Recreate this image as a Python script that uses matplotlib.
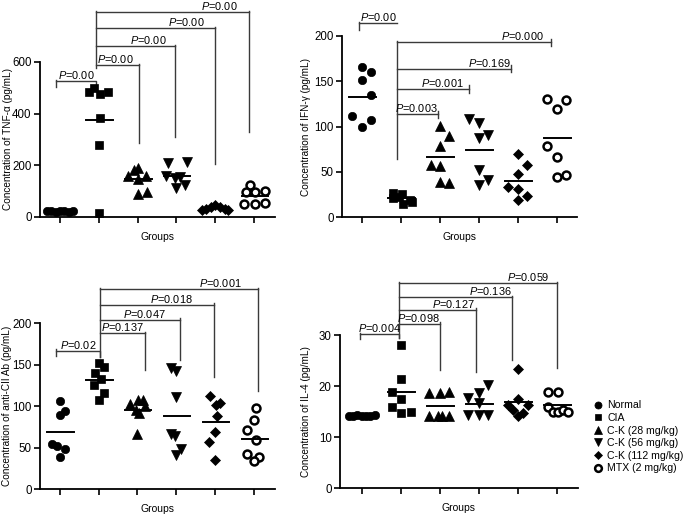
import numpy as np
import matplotlib.pyplot as plt

plt.rcParams['font.family'] = ['Liberation Sans', 'DejaVu Sans']
plt.rcParams['mathtext.fontset'] = 'custom'
plt.rcParams['mathtext.rm'] = 'Liberation Sans'
plt.rcParams['mathtext.it'] = 'Liberation Sans:italic'

# groups
groups = ['Normal', 'CIA', 'C-K (28 mg/kg)', 'C-K (56 mg/kg)', 'C-K (112 mg/kg)', 'MTX (2 mg/kg)']

# values (7 animals per group)
tnf_values = [
    [22, 24, 20, 23, 25, 21, 22],
    [500, 483, 478, 483, 385, 277, 15],
    [190, 180, 158, 160, 146, 88, 98],
    [210, 212, 157, 150, 155, 112, 125],
    [45, 38, 38, 32, 32, 26, 26],
    [125, 95, 96, 100, 50, 50, 55],
]
ifn_values = [
    [166, 160, 151, 135, 112, 100, 107],
    [27, 26, 21, 22, 19, 15, 17],
    [101, 90, 79, 58, 57, 39, 38],
    [108, 104, 88, 91, 52, 41, 36],
    [70, 58, 48, 33, 31, 24, 19],
    [130, 129, 119, 79, 67, 47, 44],
]
cii_values = [
    [106, 94, 90, 55, 52, 49, 39],
    [152, 147, 140, 133, 126, 116, 108],
    [108, 108, 103, 100, 95, 92, 67],
    [146, 142, 111, 67, 64, 49, 41],
    [113, 104, 101, 88, 69, 57, 35],
    [98, 84, 71, 59, 43, 39, 34],
]
il4_values = [
    [14.1, 14.2, 14.3, 14.2, 14.1, 14.2, 14.3],
    [28.0, 21.4, 18.8, 17.5, 15.9, 14.8, 14.9],
    [18.6, 18.6, 18.8, 14.2, 14.2, 14.2, 14.2],
    [20.2, 18.6, 17.7, 16.7, 14.3, 14.3, 14.3],
    [23.3, 17.5, 16.3, 16.3, 15.3, 14.7, 14.2],
    [18.8, 18.8, 15.9, 14.9, 14.9, 15.3, 14.9],
]

# P values: Normal vs CIA, then CIA vs C-K28, C-K56, C-K112, MTX
tnf_p = ['0.00', '0.00', '0.00', '0.00', '0.00']
ifn_p = ['0.00', '0.003', '0.001', '0.169', '0.000']
cii_p = ['0.02', '0.137', '0.047', '0.018', '0.001']
il4_p = ['0.004', '0.098', '0.127', '0.136', '0.059']

# horizontal scatter of the points inside each group (layout only)
tnf_jit = [[-0.33, -0.22, -0.11, 0, 0.11, 0.22, 0.33],
           [-0.12, -0.25, 0.03, 0.24, 0.03, 0, 0],
           [0, -0.1, -0.25, 0.22, 0, 0, 0.24],
           [-0.21, 0.26, -0.26, -0.04, 0.09, 0, 0.21],
           [0, -0.12, 0.12, -0.24, 0.24, -0.34, 0.34],
           [-0.1, -0.2, 0.02, 0.28, -0.25, 0.02, 0.28]]
ifn_jit = [[0, 0.24, 0, 0.24, -0.26, 0, 0.24],
           [-0.2, 0.03, -0.2, -0.05, 0.25, 0.07, 0.3],
           [0, 0.25, 0, -0.23, 0, 0, 0.25],
           [-0.24, 0, 0, 0.25, 0, 0.25, 0],
           [0, 0.25, 0, -0.24, 0, 0.23, 0],
           [-0.26, 0.24, 0, -0.24, 0, 0.24, 0]]
cii_jit = [[0, 0.13, 0, -0.2, -0.08, 0.13, 0],
           [0, 0.14, -0.1, 0.05, -0.12, 0.14, 0],
           [0.02, 0.15, -0.2, 0.2, -0.05, 0.05, 0],
           [-0.13, 0, 0, -0.13, -0.03, 0.13, 0],
           [-0.13, 0.13, 0.03, 0.04, 0, -0.17, 0],
           [0.04, 0, -0.17, 0.04, -0.17, 0.13, 0]]
il4_jit = [[-0.33, -0.22, -0.11, 0, 0.11, 0.22, 0.33],
           [0, 0, -0.23, 0, -0.23, 0, 0.26],
           [-0.26, 0, 0.23, -0.26, -0.05, 0.05, 0.23],
           [0.23, 0, -0.26, 0, -0.26, 0, 0.23],
           [0, 0, -0.25, 0.28, -0.12, 0.14, 0],
           [-0.22, 0.04, -0.22, -0.1, 0.04, 0.17, 0.3]]

markers = ['o', 's', '^', 'v', 'D', 'o']
msizes = [6, 5.6, 6.6, 6.6, 5.3, 5.7]

W, H = 685, 517
fig = plt.figure(figsize=(6.85, 5.17), dpi=100)


def make_ax(l, r, b, t, xlim, ymax, yticks, ylabel, lab_x):
    ax = fig.add_axes([l / W, 1 - b / H, (r - l) / W, (b - t) / H])
    ax.set_xlim(*xlim)
    ax.set_ylim(0, ymax)
    ax.set_yticks(yticks)
    ax.set_xticks(range(1, 7))
    ax.set_xticklabels([])
    for s in ['top', 'right']:
        ax.spines[s].set_visible(False)
    for s in ['left', 'bottom']:
        ax.spines[s].set_linewidth(1.3)
    ax.tick_params(axis='both', direction='out', length=4.5, width=1.2, labelsize=8.3, pad=1.5)
    ax.set_ylabel(ylabel, fontsize=7.2)
    # label x is the right edge of the rotated text
    ax.yaxis.set_label_coords((lab_x - l) / (r - l), 0.5)
    ax.set_xlabel('Groups', fontsize=7.5)
    ax.xaxis.set_label_coords(0.5, -15 / (b - t))
    return ax


def draw_points(ax, values, jit):
    for i, (vals, offs) in enumerate(zip(values, jit)):
        x = i + 1 + np.array(offs)
        open_mk = i == 5
        ax.plot(x, vals, ls='none', marker=markers[i], ms=msizes[i],
                mfc='white' if open_mk else 'black', mec='black',
                mew=1.8 if open_mk else 0.5, clip_on=False, label=groups[i], zorder=3)
        m = np.mean(vals)
        ax.plot([i + 1 - 0.32, i + 1 + 0.36], [m, m], color='black', lw=1.4, zorder=4)


def draw_brackets(ax, pvals, cia_x, first, others, cia_bottom, cap):
    kw = dict(color='#3a3a3a', lw=1.0, clip_on=False)
    tkw = dict(fontsize=7.9, va='baseline', textcoords='offset points', annotation_clip=False)
    # Normal vs CIA
    x1, h, lo1, lo2 = first
    ax.plot([x1, x1, cia_x, cia_x], [lo1, h, h, lo2], **kw)
    ax.plot([x1, x1], [h, h + cap * 0.3], **kw)
    ax.annotate(r'$\mathit{P}$=' + pvals[0], ((x1 + cia_x) / 2, h), xytext=(0, 1.5), ha='center', **tkw)
    top = max(o[1] for o in others)
    ax.plot([cia_x, cia_x], [top + cap * 0.3, cia_bottom], **kw)
    for p, (x2, h, lo, hi, tx) in zip(pvals[1:], others):
        ax.plot([cia_x, x2], [h, h], **kw)
        ax.plot([x2, x2], [h + hi, lo], **kw)
        ax.annotate(r'$\mathit{P}$=' + p, (x2 + tx, h), xytext=(0, 1.5), ha='right', **tkw)


ax1 = make_ax(40, 275, 217, 62, (0.485, 6.54), 600, [0, 200, 400, 600],
              'Concentration of TNF-\u03b1 (pg/mL)', 13)
draw_points(ax1, tnf_values, tnf_jit)
draw_brackets(ax1, tnf_p, 1.92, (0.9, 525, 505, 505),
              [(3.04, 588, 288, 4, -0.13), (3.96, 661, 311, 4, -0.21),
               (5.0, 731, 207, 4, -0.28), (5.87, 793, 330, 4, -0.28)], 575, 12)

ax2 = make_ax(342, 577, 217.3, 36, (0.495, 6.52), 200, [0, 50, 100, 150, 200],
              'Concentration of IFN-\u03b3 (pg/mL)', 311)
draw_points(ax2, ifn_values, ifn_jit)
draw_brackets(ax2, ifn_p, 1.9, (0.93, 214, 207, 214),
              [(2.96, 113.6, 109.6, 4, -0.01), (3.74, 141.5, 137.5, 4, -0.11),
               (4.82, 164, 160, 4, 0.0), (5.85, 193, 189, 4, -0.19)], 64, 5)

ax3 = make_ax(40, 275, 489.3, 323.3, (0.49, 6.54), 200, [0, 50, 100, 150, 200],
              'Concentration of anti-CII Ab (pg/mL)', 12)
draw_points(ax3, cii_values, cii_jit)
draw_brackets(ax3, cii_p, 2.03, (0.9, 167, 161, 160),
              [(3.19, 188, 144, 2, -0.02), (4.09, 204, 156, 2, -0.36),
               (4.98, 222, 135, 2, -0.55), (6.09, 241, 118, 2, -0.4)], 160, 5)

ax4 = make_ax(340, 578, 488.3, 335, (0.444, 6.55), 30, [0, 10, 20, 30],
              'Concentration of IL-4 (pg/mL)', 311)
draw_points(ax4, il4_values, il4_jit)
draw_brackets(ax4, il4_p, 1.95, (0.96, 30.2, 29.2, 29.5),
              [(3.0, 32.2, 23.2, 0.3, 0.0), (3.94, 34.9, 22.8, 0.3, -0.03),
               (4.86, 37.4, 25.2, 0.3, 0.0), (6.0, 40.1, 23.5, 0.3, -0.17)], 29.5, 0.8)

handles, labels = ax4.get_legend_handles_labels()
fig.legend(handles, labels, loc='upper left', bbox_to_anchor=(588 / W, 1 - 395 / H),
           frameon=False, fontsize=7.6, handlelength=0.8, handletextpad=0.5,
           labelspacing=0.25, borderpad=0, markerscale=0.85)

fig.savefig('out.png', dpi=100)
